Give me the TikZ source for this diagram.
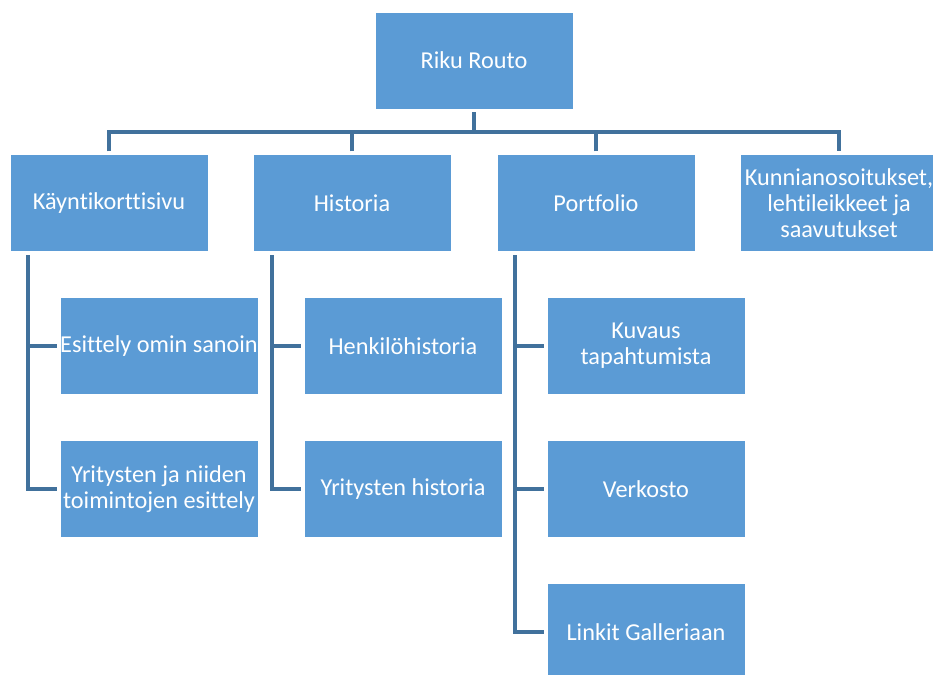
\documentclass[tikz,border=0pt]{standalone}
\usepackage{fontspec}
\setmainfont{Carlito}[Ligatures={NoCommon}]
\definecolor{boxfill}{HTML}{5B9BD5}
\definecolor{linkline}{HTML}{41719C}
\begin{document}
\begin{tikzpicture}[x=0.75pt,y=-0.75pt,
  orgbox/.style={rectangle, fill=boxfill, draw=white, line width=0.4pt,
    minimum width=148.5pt, minimum height=72.75pt, inner sep=0pt,
    outer sep=2.4pt, text=white, align=center,
    font=\fontsize{18.2}{19.5}\selectfont},
  link/.style={draw=linkline, line width=2.3pt}]
\useasboundingbox (0,0) rectangle (933,675);

% top level
\node[orgbox] (root) at (474,60.5) {Riku Routo};

% second level
\node[orgbox] (kay)  at (109,203) {Käyntikorttisivu};
\node[orgbox] (his)  at (352,203) {Historia};
\node[orgbox] (port) at (596,203) {Portfolio};
\node[orgbox] (kun)  at (839,203) {Kunnianosoitukset,\\lehtileikkeet ja\\saavutukset};

% third level
\node[orgbox] (kay1) at (159,346) {Esittely omin sanoin};
\node[orgbox] (kay2) at (159,489) {Yritysten ja niiden\\toimintojen esittely};
\node[orgbox] (his1) at (403,346) {Henkilöhistoria};
\node[orgbox] (his2) at (403,489) {Yritysten historia};
\node[orgbox] (por1) at (646,346) {Kuvaus\\tapahtumista};
\node[orgbox] (por2) at (646,489) {Verkosto};
\node[orgbox] (por3) at (646,632) {Linkit Galleriaan};

% bus between the first two levels
\coordinate (bus) at (474,132);
\draw[link] (root.south) -- (root.south |- bus);
\draw[link] (kay.north) -- (kay.north |- bus) -| (kun.north);
\draw[link] (his.north) -- (his.north |- bus);
\draw[link] (port.north) -- (port.north |- bus);

% trunks down to the third level
\coordinate (kayT) at (28,255);
\coordinate (hisT) at (272,255);
\coordinate (porT) at (515,255);
\draw[link] (kayT) |- (kay2.west);
\draw[link] (kayT) |- (kay1.west);
\draw[link] (hisT) |- (his2.west);
\draw[link] (hisT) |- (his1.west);
\draw[link] (porT) |- (por3.west);
\draw[link] (porT) |- (por2.west);
\draw[link] (porT) |- (por1.west);
\end{tikzpicture}
\end{document}
